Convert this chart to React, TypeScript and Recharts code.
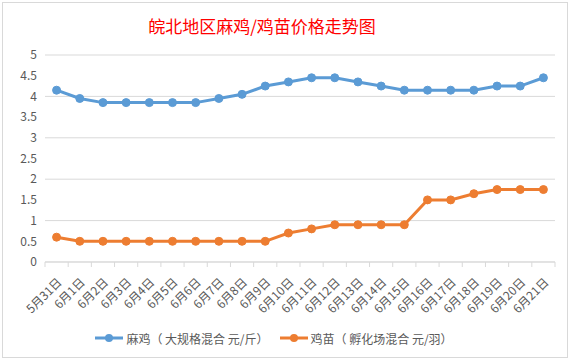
import React from 'react';
import { LineChart, Line, XAxis, YAxis, CartesianGrid, Legend } from 'recharts';

const categories = [
  '5月31日', '6月1日', '6月2日', '6月3日', '6月4日', '6月5日', '6月6日', '6月7日',
  '6月8日', '6月9日', '6月10日', '6月11日', '6月12日', '6月13日', '6月14日', '6月15日',
  '6月16日', '6月17日', '6月18日', '6月19日', '6月20日', '6月21日',
];
const majiPrices = [
  4.15, 3.95, 3.85, 3.85, 3.85, 3.85, 3.85, 3.95, 4.05, 4.25, 4.35,
  4.45, 4.45, 4.35, 4.25, 4.15, 4.15, 4.15, 4.15, 4.25, 4.25, 4.45,
];
const jimiaoPrices = [
  0.6, 0.5, 0.5, 0.5, 0.5, 0.5, 0.5, 0.5, 0.5, 0.5, 0.7,
  0.8, 0.9, 0.9, 0.9, 0.9, 1.5, 1.5, 1.65, 1.75, 1.75, 1.75,
];
const yTicks = [0, 0.5, 1, 1.5, 2, 2.5, 3, 3.5, 4, 4.5, 5];
const seriesNames = ['麻鸡（ 大规格混合 元/斤）', '鸡苗（ 孵化场混合 元/羽）'];
const title = '皖北地区麻鸡/鸡苗价格走势图';

const data = categories.map((day, i) => ({
  day,
  maji: majiPrices[i],
  jimiao: jimiaoPrices[i],
}));

const W = 572;
const H = 362;
const FONT = '"Noto Sans CJK SC", "Noto Sans", sans-serif';
const BLUE = '#5B9BD5';
const ORANGE = '#ED7D31';
const GRID = '#d9d9d9';
const TEXT = '#595959';
const MARGIN = { top: 55, right: 17, left: 0, bottom: 14 };
const Y_WIDTH = 45;
// width of one category band, used for the between-category tick marks
const BAND = (W - MARGIN.left - MARGIN.right - Y_WIDTH) / categories.length;

const DateTick = (props: any) => {
  const { x, y, payload, index } = props;
  return (
    <g transform={`translate(${x},${y})`}>
      <line x1={-BAND / 2} y1={-8} x2={-BAND / 2} y2={-3} stroke={GRID} />
      {index === categories.length - 1 && (
        <line x1={BAND / 2} y1={-8} x2={BAND / 2} y2={-3} stroke={GRID} />
      )}
      <text
        x={0}
        y={0}
        textAnchor="end"
        transform="translate(6,13) rotate(-45)"
        fill={TEXT}
        fontSize={12}
        fontFamily={FONT}
      >
        {payload.value}
      </text>
    </g>
  );
};

const LegendItem = ({ color, label }: { color: string; label: string }) => (
  <div style={{ display: 'flex', alignItems: 'center' }}>
    <svg width={30} height={12}>
      <line x1={1} y1={6} x2={29} y2={6} stroke={color} strokeWidth={3} />
      <circle cx={15} cy={6} r={4} fill={color} />
    </svg>
    <span style={{ marginLeft: 2, fontSize: 12, color: TEXT, fontFamily: FONT, whiteSpace: 'pre' }}>{label}</span>
  </div>
);

const renderLegend = () => (
  <div style={{ display: 'flex', justifyContent: 'center', gap: 10, height: 20, alignItems: 'center', paddingRight: 8 }}>
    <LegendItem color={BLUE} label={seriesNames[0]} />
    <LegendItem color={ORANGE} label={seriesNames[1]} />
  </div>
);

export default function App() {
  return (
    <div style={{ position: 'absolute', left: 0, top: 0, width: W, height: H, background: '#fff' }}>
      <div
        style={{
          position: 'absolute', left: 2, top: 2, width: W - 6, height: H - 6,
          border: `1px solid ${GRID}`, boxSizing: 'border-box',
        }}
      />
      <div
        style={{
          position: 'absolute', left: 0, top: 13, width: 524, textAlign: 'center',
          color: '#ff0000', fontSize: 17, fontFamily: FONT,
        }}
      >
        {title}
      </div>
      <LineChart width={W} height={H} data={data} margin={MARGIN}>
        <CartesianGrid vertical={false} stroke={GRID} />
        <XAxis
          dataKey="day"
          scale="band"
          interval={0}
          height={66}
          tickLine={false}
          axisLine={{ stroke: GRID }}
          tick={<DateTick />}
        />
        <YAxis
          width={Y_WIDTH}
          domain={[0, 5]}
          ticks={yTicks}
          axisLine={false}
          tickLine={false}
          tick={{ fill: TEXT, fontSize: 12, fontFamily: FONT }}
        />
        <Legend verticalAlign="bottom" content={renderLegend} />
        <Line
          dataKey="maji"
          name={seriesNames[0]}
          stroke={BLUE}
          strokeWidth={3}
          dot={{ r: 4, fill: BLUE, stroke: BLUE, strokeWidth: 1 }}
          isAnimationActive={false}
        />
        <Line
          dataKey="jimiao"
          name={seriesNames[1]}
          stroke={ORANGE}
          strokeWidth={3}
          dot={{ r: 4, fill: ORANGE, stroke: ORANGE, strokeWidth: 1 }}
          isAnimationActive={false}
        />
      </LineChart>
    </div>
  );
}
